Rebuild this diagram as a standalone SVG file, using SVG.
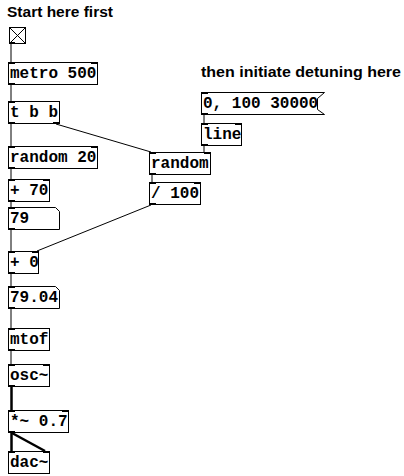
<svg xmlns="http://www.w3.org/2000/svg" width="404" height="476" viewBox="0 0 404 476">
<style>
.bg{fill:#ffffff}
.box{fill:#ffffff;stroke:#000;stroke-width:1}
.t{font-family:"Liberation Mono","Courier New",monospace;font-weight:bold;font-size:16px;fill:#000}
.c{font-family:"Liberation Sans",Arial,sans-serif;font-weight:bold;font-size:14px;fill:#000}
.io{fill:#000}
.w{fill:none;stroke:#000;stroke-width:1}
.s{fill:none;stroke:#000;stroke-width:2.5}
</style>
<rect class="bg" x="0" y="0" width="404" height="476"/>
<text class="c" x="7" y="17" textLength="106" lengthAdjust="spacingAndGlyphs">Start here first</text>
<text class="c" x="201" y="77" textLength="200" lengthAdjust="spacingAndGlyphs">then initiate detuning here</text>
<g id="connectors">
<path class="w" d="M11 44 V62"/>
<path class="w" d="M11 85 V101"/>
<path class="w" d="M11 124 V146"/>
<path class="w" d="M56 124 L151 152"/>
<path class="w" d="M11 169 V179"/>
<path class="w" d="M11 202 V207"/>
<path class="w" d="M11 230 V251"/>
<path class="w" d="M151 205 L37 251"/>
<path class="w" d="M11 274 V286"/>
<path class="w" d="M11 309 V328"/>
<path class="w" d="M11 351 V364"/>
<path class="s" d="M11.5 387 V410"/>
<path class="s" d="M11.5 433 V451"/>
<path class="s" d="M12 433 L45 451"/>
<path class="w" d="M204 115 V123"/>
<path class="w" d="M204 146 V152"/>
<path class="w" d="M152 175 V182"/>
</g>
<g id="toggle">
<rect class="box" x="9.5" y="27.5" width="16" height="16"/>
<path class="w" d="M9.5 27.5 L25.5 43.5 M25.5 27.5 L9.5 43.5"/>
<rect class="io" x="9" y="42" width="6" height="2"/>
</g>
<g id="metro">
<rect class="box" x="8.5" y="62.5" width="89" height="22"/>
<rect class="io" x="8" y="62" width="7" height="2"/><rect class="io" x="91" y="62" width="7" height="2"/><rect class="io" x="8" y="83" width="7" height="2"/>
<text class="t" x="10" y="78">metro 500</text>
</g>
<g id="tbb">
<rect class="box" x="8.5" y="101.5" width="51" height="22"/>
<rect class="io" x="8" y="101" width="7" height="2"/><rect class="io" x="8" y="122" width="7" height="2"/><rect class="io" x="53" y="122" width="7" height="2"/>
<text class="t" x="10" y="117">t b b</text>
</g>
<g id="random20">
<rect class="box" x="8.5" y="146.5" width="89" height="22"/>
<rect class="io" x="8" y="146" width="7" height="2"/><rect class="io" x="91" y="146" width="7" height="2"/><rect class="io" x="8" y="167" width="7" height="2"/>
<text class="t" x="10" y="162">random 20</text>
</g>
<g id="plus70">
<rect class="box" x="8.5" y="179.5" width="41" height="22"/>
<rect class="io" x="8" y="179" width="7" height="2"/><rect class="io" x="43" y="179" width="7" height="2"/><rect class="io" x="8" y="200" width="7" height="2"/>
<text class="t" x="10" y="195">+ 70</text>
</g>
<g id="num79">
<path class="box" d="M8.5 207.5 H55.5 L59.5 211.5 V229.5 H8.5 Z"/>
<rect class="io" x="8" y="207" width="7" height="2"/><rect class="io" x="8" y="228" width="7" height="2"/>
<text class="t" x="10" y="223">79</text>
</g>
<g id="plus0">
<rect class="box" x="8.5" y="251.5" width="30" height="22"/>
<rect class="io" x="8" y="251" width="7" height="2"/><rect class="io" x="32" y="251" width="7" height="2"/><rect class="io" x="8" y="272" width="7" height="2"/>
<text class="t" x="10" y="267">+ 0</text>
</g>
<g id="num7904">
<path class="box" d="M8.5 286.5 H55.5 L59.5 290.5 V308.5 H8.5 Z"/>
<rect class="io" x="8" y="286" width="7" height="2"/><rect class="io" x="8" y="307" width="7" height="2"/>
<text class="t" x="10" y="302">79.04</text>
</g>
<g id="mtof">
<rect class="box" x="8.5" y="328.5" width="41" height="22"/>
<rect class="io" x="8" y="328" width="7" height="2"/><rect class="io" x="8" y="349" width="7" height="2"/>
<text class="t" x="10" y="344">mtof</text>
</g>
<g id="osc">
<rect class="box" x="8.5" y="364.5" width="41" height="22"/>
<rect class="io" x="8" y="364" width="7" height="2"/><rect class="io" x="43" y="364" width="7" height="2"/><rect class="io" x="8" y="385" width="7" height="2"/>
<text class="t" x="10" y="380">osc~</text>
</g>
<g id="mul">
<rect class="box" x="8.5" y="410.5" width="60" height="22"/>
<rect class="io" x="8" y="410" width="7" height="2"/><rect class="io" x="62" y="410" width="7" height="2"/><rect class="io" x="8" y="431" width="7" height="2"/>
<text class="t" x="10" y="426">*~ 0.7</text>
</g>
<g id="dac">
<rect class="box" x="8.5" y="451.5" width="41" height="22"/>
<rect class="io" x="8" y="451" width="7" height="2"/><rect class="io" x="43" y="451" width="7" height="2"/>
<text class="t" x="10" y="467">dac~</text>
</g>
<g id="msg">
<path class="box" d="M201.5 92.5 H324.5 L317.5 98.5 V109.5 L324.5 114.5 H201.5 Z"/>
<rect class="io" x="201" y="92" width="7" height="2"/><rect class="io" x="201" y="113" width="7" height="2"/>
<text class="t" x="203" y="108">0, 100 30000</text>
</g>
<g id="line">
<rect class="box" x="201.5" y="123.5" width="40" height="22"/>
<rect class="io" x="201" y="123" width="7" height="2"/><rect class="io" x="235" y="123" width="7" height="2"/><rect class="io" x="201" y="144" width="7" height="2"/>
<text class="t" x="203" y="139">line</text>
</g>
<g id="random">
<rect class="box" x="149.5" y="152.5" width="61" height="22"/>
<rect class="io" x="149" y="152" width="7" height="2"/><rect class="io" x="204" y="152" width="7" height="2"/><rect class="io" x="149" y="173" width="7" height="2"/>
<text class="t" x="151" y="168">random</text>
</g>
<g id="div">
<rect class="box" x="149.5" y="182.5" width="51" height="22"/>
<rect class="io" x="149" y="182" width="7" height="2"/><rect class="io" x="194" y="182" width="7" height="2"/><rect class="io" x="149" y="203" width="7" height="2"/>
<text class="t" x="151" y="198">/ 100</text>
</g>
</svg>
